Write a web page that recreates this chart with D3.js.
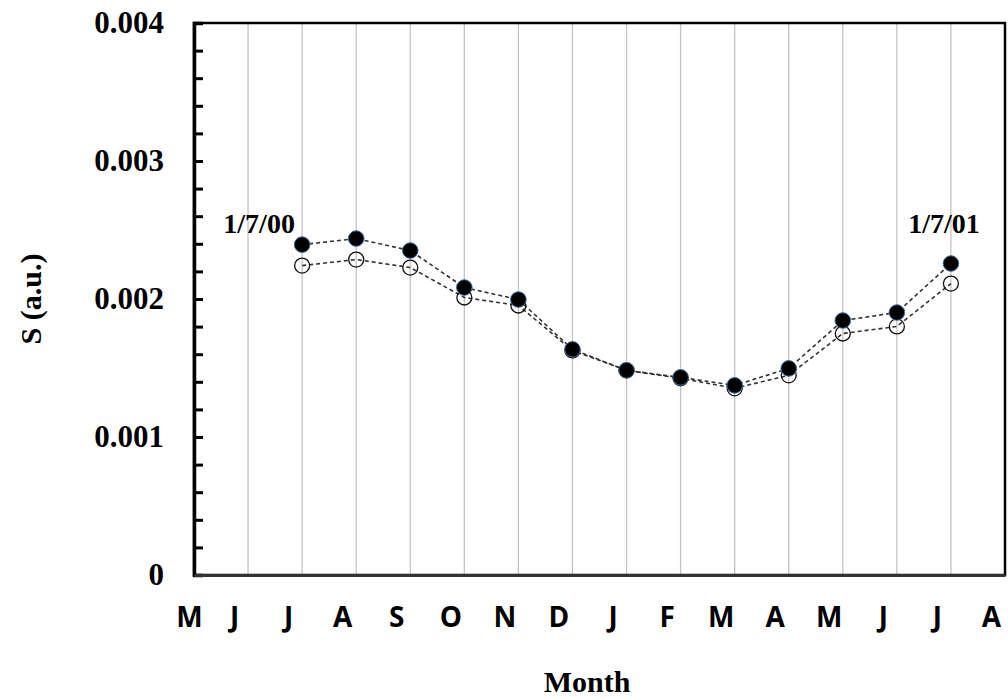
<!DOCTYPE html>
<meta charset="utf-8">
<style>
  body { margin: 0; background: #fff; }
  svg { display: block; }
  .ylab text { font: bold 31px "Liberation Serif", "Times New Roman", serif; fill: #000; }
  .xlab text { font: bold 28px "Open Sans", sans-serif; fill: #000; }
  .title { font: bold 30px "Liberation Serif", "Times New Roman", serif; fill: #000; }
  .note { font: bold 28px "Liberation Serif", "Times New Roman", serif; fill: #000; }
</style>
<body>
<div id="chart"></div>
<script src="https://cdn.jsdelivr.net/npm/d3@7"></script>
<script>

var width = 1008,
    height = 699;

// month letters along the bottom, May 2000 .. Aug 2001
var months = ["M", "J", "J", "A", "S", "O", "N", "D", "J", "F", "M", "A", "M", "J", "J", "A"];

// months (index into the list above) where the points sit: Jul 2000 .. Jul 2001
var pointMonths = [2, 3, 4, 5, 6, 7, 8, 9, 10, 11, 12, 13, 14];

// filled markers
var filledS = [0.002394, 0.002438, 0.002351, 0.002083, 0.001996, 0.001635, 0.001483,
               0.001432, 0.001374, 0.001497, 0.001844, 0.001902, 0.002257];

// open markers
var openS = [0.002242, 0.002286, 0.002228, 0.002011, 0.001953, 0.001627, 0.001483,
             0.001425, 0.001353, 0.001447, 0.001750, 0.001801, 0.002112];

var yMajor = [0, 0.001, 0.002, 0.003, 0.004];

var plotLeft = 194, plotRight = 1005, plotTop = 23, plotBottom = 575;

var x = d3.scaleLinear().domain([0, months.length - 1]).range([plotLeft, plotRight]);
var y = d3.scaleLinear().domain([0, 0.004]).range([plotBottom, plotTop]);

var svg = d3.select("#chart").append("svg")
  .attr("width", width)
  .attr("height", height);

// vertical grid lines at each month
svg.append("g")
  .selectAll("line")
  .data(d3.range(1, months.length - 1))
  .enter().append("line")
    .attr("x1", function(d) { return x(d); })
    .attr("x2", function(d) { return x(d); })
    .attr("y1", plotTop)
    .attr("y2", plotBottom)
    .attr("stroke", "#c4c4c4")
    .attr("stroke-width", 1.3);

// frame
svg.append("rect")
  .attr("x", plotLeft)
  .attr("y", plotTop)
  .attr("width", plotRight - plotLeft)
  .attr("height", plotBottom - plotTop)
  .attr("fill", "none")
  .attr("stroke", "#000")
  .attr("stroke-width", 2.5);

// y axis, ticks pointing inward, minor every 0.0002
var yAxis = d3.axisLeft(y)
  .tickValues(d3.range(0, 21).map(function(i) { return i * 0.0002; }))
  .tickSize(-9)
  .tickPadding(30)
  .tickFormat(function(d) {
    var m = yMajor.find(function(v) { return Math.abs(v - d) < 1e-9; });
    if (m === undefined) return "";
    return m === 0 ? "0" : d3.format(".3f")(m);
  });

var gy = svg.append("g")
  .attr("class", "ylab")
  .attr("transform", "translate(" + plotLeft + ",0)")
  .call(yAxis);
gy.select(".domain").attr("stroke", "#000").attr("stroke-width", 3.5);
gy.selectAll(".tick line").attr("stroke", "#000").attr("stroke-width", 3);

// month letters
var xAxis = d3.axisBottom(x)
  .tickValues(d3.range(months.length))
  .tickSize(0)
  .tickPadding(32)
  .tickFormat(function(d) { return months[d]; });

var gx = svg.append("g")
  .attr("class", "xlab")
  .attr("transform", "translate(0," + plotBottom + ")")
  .call(xAxis);
gx.select(".domain").attr("stroke", "#333").attr("stroke-width", 3);
gx.selectAll(".tick text").attr("dx", function(d) { return d === 0 ? -5 : -14; });

// dashed lines
var line = d3.line()
  .x(function(d, i) { return x(pointMonths[i]); })
  .y(function(d) { return y(d); });

[openS, filledS].forEach(function(series) {
  svg.append("path")
    .datum(series)
    .attr("d", line)
    .attr("fill", "none")
    .attr("stroke", "#333")
    .attr("stroke-width", 1.6)
    .attr("stroke-dasharray", "4,3");
});

// open markers
svg.append("g")
  .selectAll("circle")
  .data(openS)
  .enter().append("circle")
    .attr("cx", function(d, i) { return x(pointMonths[i]); })
    .attr("cy", function(d) { return y(d); })
    .attr("r", 7.5)
    .attr("fill", "none")
    .attr("stroke", "#111")
    .attr("stroke-width", 1.3);

// filled markers
svg.append("g")
  .selectAll("circle")
  .data(filledS)
  .enter().append("circle")
    .attr("cx", function(d, i) { return x(pointMonths[i]); })
    .attr("cy", function(d) { return y(d); })
    .attr("r", 7.8)
    .attr("fill", "#000")
    .attr("stroke", "#3b6ea8")
    .attr("stroke-width", 1);

// date notes
svg.append("text")
  .attr("class", "note")
  .attr("x", x(pointMonths[0]) - 43)
  .attr("y", 233)
  .attr("text-anchor", "middle")
  .text("1/7/00");

svg.append("text")
  .attr("class", "note")
  .attr("x", x(pointMonths[pointMonths.length - 1]) - 7)
  .attr("y", 233)
  .attr("text-anchor", "middle")
  .text("1/7/01");

// axis titles
svg.append("text")
  .attr("class", "title")
  .attr("transform", "translate(41," + (plotTop + plotBottom) / 2 + ") rotate(-90)")
  .attr("text-anchor", "middle")
  .text("S (a.u.)");

svg.append("text")
  .attr("class", "title")
  .attr("x", 587)
  .attr("y", 692)
  .attr("text-anchor", "middle")
  .text("Month");

</script>
</body>
